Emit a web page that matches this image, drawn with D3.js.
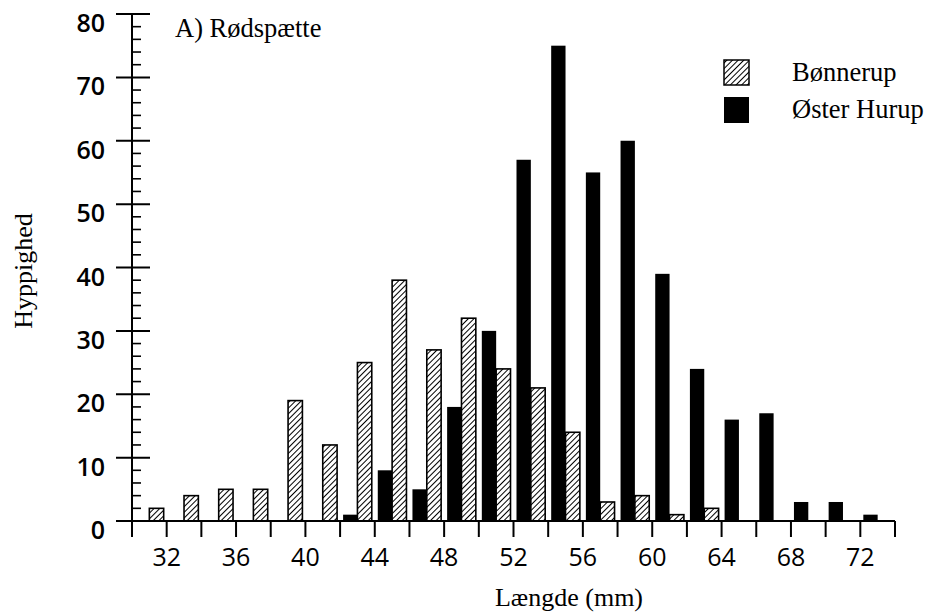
<!DOCTYPE html>
<html>
<head>
<meta charset="utf-8">
<script src="https://cdn.jsdelivr.net/npm/d3@7"></script>
<style>
  html, body { margin: 0; padding: 0; background: #fff; }
  svg { display: block; }
</style>
</head>
<body>
<svg id="chart" width="929" height="616"></svg>
<script>
// ---- data ----
const binStarts = [30, 32, 34, 36, 38, 40, 42, 44, 46, 48, 50, 52, 54, 56, 58, 60, 62, 64, 66, 68, 70, 72];
const bonnerup   = [2, 4, 5, 5, 19, 12, 25, 38, 27, 32, 24, 21, 14, 3, 4, 1, 2, 0, 0, 0, 0, 0];
const osterHurup = [0, 0, 0, 0, 0, 0, 1, 8, 5, 18, 30, 57, 75, 55, 60, 39, 24, 16, 17, 3, 3, 1];
const seriesNames = ["Bønnerup", "Øster Hurup"];
const xTickLabels = [32, 36, 40, 44, 48, 52, 56, 60, 64, 68, 72];
const yTickLabels = [0, 10, 20, 30, 40, 50, 60, 70, 80];
const binWidth = 2;

// ---- layout ----
const svg = d3.select("#chart");
const serif = "'Liberation Serif', 'Times New Roman', serif";
const sans = "'Open Sans', 'DejaVu Sans', sans-serif";

const x = d3.scaleLinear().domain([30, 74]).range([132, 895]);
const y = d3.scaleLinear().domain([0, 80]).range([521, 14]);

// hatch pattern
const defs = svg.append("defs");
const pat = defs.append("pattern")
  .attr("id", "hatch")
  .attr("patternUnits", "userSpaceOnUse")
  .attr("width", 4).attr("height", 4)
  .attr("patternTransform", "rotate(45)");
pat.append("rect").attr("width", 4).attr("height", 4).attr("fill", "#fff");
pat.append("line").attr("x1", 0).attr("y1", 0).attr("x2", 0).attr("y2", 4)
  .attr("stroke", "#000").attr("stroke-width", 2);

// ---- bars ----
const gap = 3;
const bars = svg.append("g");
binStarts.forEach((b, i) => {
  const x0 = x(b) + gap;
  const xm = (x(b) + x(b + binWidth)) / 2;
  const x1 = x(b + binWidth) - gap;
  if (osterHurup[i] > 0) {
    bars.append("rect")
      .attr("x", x0).attr("y", y(osterHurup[i]))
      .attr("width", xm - x0).attr("height", y(0) - y(osterHurup[i]))
      .attr("fill", "#000");
  }
  if (bonnerup[i] > 0) {
    bars.append("rect")
      .attr("x", xm).attr("y", y(bonnerup[i]))
      .attr("width", x1 - xm).attr("height", y(0) - y(bonnerup[i]))
      .attr("fill", "url(#hatch)")
      .attr("stroke", "#000").attr("stroke-width", 1.6);
  }
});

// ---- y axis ----
const ax = svg.append("g").attr("stroke", "#000");
ax.append("line").attr("x1", x(30)).attr("x2", x(30))
  .attr("y1", y(80)).attr("y2", y(0) + 16).attr("stroke-width", 2);
d3.range(0, 81, 2).forEach(v => {
  const major = v % 10 === 0;
  ax.append("line")
    .attr("x1", major ? x(30) - 16 : x(30)).attr("x2", major ? x(30) + 18 : x(30) + 9)
    .attr("y1", y(v)).attr("y2", y(v))
    .attr("stroke-width", major ? 2 : 1.6);
});
// ---- x axis ----
ax.append("line").attr("x1", x(30)).attr("x2", x(74))
  .attr("y1", y(0)).attr("y2", y(0)).attr("stroke-width", 2);
d3.range(30, 75, 2).forEach(v => {
  ax.append("line").attr("x1", x(v)).attr("x2", x(v))
    .attr("y1", y(0)).attr("y2", y(0) + 16).attr("stroke-width", 2);
});

// tick labels
svg.append("g").selectAll("text").data(yTickLabels).join("text")
  .attr("x", 105).attr("y", d => y(d) + 18)
  .attr("text-anchor", "end")
  .attr("font-family", sans).attr("font-size", 25).attr("font-weight", 600)
  .text(d => d);
svg.append("g").selectAll("text").data(xTickLabels).join("text")
  .attr("x", d => x(d)).attr("y", 566)
  .attr("text-anchor", "middle")
  .attr("font-family", sans).attr("font-size", 25).attr("font-weight", 500)
  .text(d => d);

// ---- titles ----
svg.append("text").attr("x", 175).attr("y", 37)
  .attr("font-family", serif).attr("font-size", 26.5)
  .text("A) Rødspætte");
svg.append("text").attr("x", 569).attr("y", 606)
  .attr("text-anchor", "middle")
  .attr("font-family", serif).attr("font-size", 26)
  .text("Længde (mm)");
svg.append("text")
  .attr("transform", "translate(32,271) rotate(-90)")
  .attr("text-anchor", "middle")
  .attr("font-family", serif).attr("font-size", 26)
  .text("Hyppighed");

// ---- legend ----
const leg = svg.append("g");
leg.append("rect").attr("x", 724).attr("y", 60).attr("width", 25).attr("height", 25)
  .attr("fill", "url(#hatch)").attr("stroke", "#000").attr("stroke-width", 1.5);
leg.append("rect").attr("x", 724).attr("y", 97).attr("width", 25).attr("height", 26)
  .attr("fill", "#000");
leg.append("text").attr("x", 792).attr("y", 81)
  .attr("font-family", serif).attr("font-size", 26.5).text(seriesNames[0]);
leg.append("text").attr("x", 792).attr("y", 118)
  .attr("font-family", serif).attr("font-size", 26.5).text(seriesNames[1]);
</script>
</body>
</html>
